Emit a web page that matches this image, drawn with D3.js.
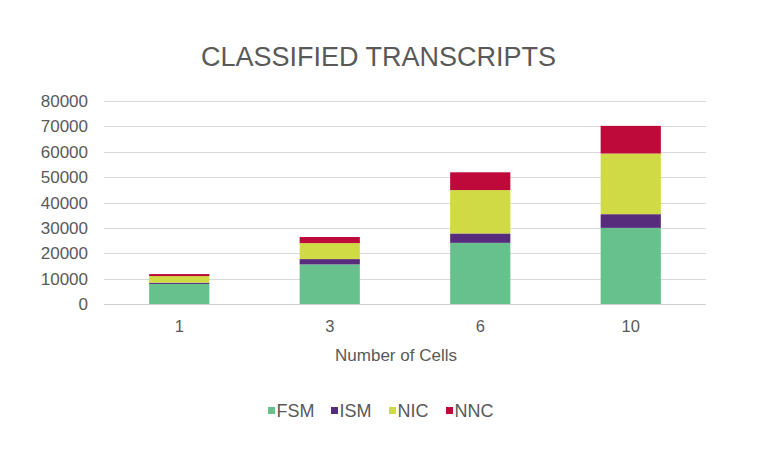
<!DOCTYPE html>
<html><head><meta charset="utf-8">
<script src="https://cdn.jsdelivr.net/npm/d3@7"></script>
<style>body{margin:0;background:#fff;} text{font-family:"Liberation Sans",Arial,Helvetica,sans-serif;fill:#595959;}</style>
</head><body>
<svg id="c" width="770" height="457"></svg>
<script>
const categories = ["1","3","6","10"];
const seriesNames = ["FSM","ISM","NIC","NNC"];
const FSM = [7900, 15600, 24100, 30000];
const ISM = [500, 2100, 3700, 5400];
const NIC = [2600, 6300, 17100, 23900];
const NNC = [800, 2400, 7000, 10900];
const yTicks = [0,10000,20000,30000,40000,50000,60000,70000,80000];
const colors = ["#67c18d","#582c7c","#cfda45","#bd0a3b"];
const chartTitle = "CLASSIFIED TRANSCRIPTS";
const xTitle = "Number of Cells";

(function(){
const svg = d3.select("#c");
const pL = 104, pR = 706, pT = 101, pB = 304;
const rows = categories.map((c,i)=>({cat:c, FSM:FSM[i], ISM:ISM[i], NIC:NIC[i], NNC:NNC[i]}));
const stack = d3.stack().keys(seriesNames)(rows);
const x = d3.scaleBand().domain(categories).range([pL,pR]).paddingInner(0.6).paddingOuter(0.3);
const y = d3.scaleLinear().domain([0,80000]).range([pB,pT]);
const color = d3.scaleOrdinal().domain(seriesNames).range(colors);

svg.append("g").selectAll("line").data(yTicks).join("line")
  .attr("x1",pL).attr("x2",pR)
  .attr("y1",d=>Math.round(y(d))+0.5).attr("y2",d=>Math.round(y(d))+0.5)
  .attr("stroke",d=>d===0?"#d0d0d0":"#d9d9d9").attr("stroke-width",1);

svg.append("g").selectAll("text").data(yTicks).join("text")
  .attr("x",88).attr("y",d=>y(d)+6).attr("text-anchor","end")
  .attr("font-size","17px").text(d=>d);

svg.append("g").selectAll("g").data(stack).join("g").attr("fill",d=>color(d.key))
  .selectAll("rect").data(d=>d).join("rect")
  .attr("x",d=>x(d.data.cat)).attr("width",x.bandwidth())
  .attr("y",d=>y(d[1])).attr("height",d=>y(d[0])-y(d[1]));

svg.append("g").selectAll("text").data(categories).join("text")
  .attr("x",d=>x(d)+x.bandwidth()/2).attr("y",332).attr("text-anchor","middle")
  .attr("font-size","16.5px").text(d=>d);

svg.append("text").attr("x",396).attr("y",361).attr("text-anchor","middle")
  .attr("font-size","17px").text(xTitle);

svg.append("text").attr("x",378.5).attr("y",66).attr("text-anchor","middle")
  .attr("font-size","27px").text(chartTitle);

const legX = [268, 331, 389, 446];
const leg = svg.append("g").selectAll("g").data(seriesNames).join("g")
  .attr("transform",(d,i)=>`translate(${legX[i]},0)`);
leg.append("rect").attr("x",0).attr("y",407).attr("width",7).attr("height",7).attr("fill",d=>color(d));
leg.append("text").attr("x",8.5).attr("y",417).attr("font-size","18px").text(d=>d);
})();
</script>
</body></html>
